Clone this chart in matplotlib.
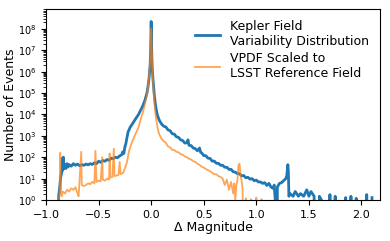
"""
Kepler field variability distribution vs. the VPDF scaled to the LSST
reference field: histogram of magnitude changes on a log count axis.
"""
import matplotlib
matplotlib.use("Agg")
import matplotlib.pyplot as plt
import numpy as np

# Kepler field: delta magnitude bins and event counts (0 = empty bin)
kepler_dmag = [
    -0.885, -0.88, -0.87, -0.86, -0.85, -0.845, -0.84, -0.835, -0.83, -0.82,
    -0.81, -0.80, -0.79, -0.78, -0.76, -0.74, -0.72, -0.70, -0.68, -0.66,
    -0.64, -0.62, -0.60, -0.58, -0.56, -0.54, -0.52, -0.50, -0.48, -0.46,
    -0.44, -0.42, -0.40, -0.38, -0.36, -0.34, -0.32, -0.30, -0.28, -0.27,
    -0.26, -0.25, -0.24, -0.22, -0.20, -0.18, -0.15, -0.12, -0.10, -0.08,
    -0.06, -0.04, -0.03, -0.02, -0.01, -0.005, 0.0, 0.005, 0.01, 0.02,
    0.03, 0.04, 0.05, 0.06, 0.08, 0.10, 0.12, 0.14, 0.16, 0.18,
    0.20, 0.22, 0.24, 0.26, 0.28, 0.30, 0.32, 0.34, 0.35, 0.36,
    0.38, 0.40, 0.42, 0.44, 0.46, 0.47, 0.48, 0.50, 0.52, 0.54,
    0.56, 0.58, 0.60, 0.62, 0.64, 0.66, 0.68, 0.70, 0.72, 0.74,
    0.76, 0.78, 0.80, 0.82, 0.84, 0.86, 0.88, 0.90, 0.92, 0.94,
    0.96, 0.98, 1.00, 1.02, 1.04, 1.06, 1.08, 1.10, 1.12, 1.14,
    1.16, 1.17, 1.18, 1.19, 1.20, 1.22, 1.24, 1.26, 1.28, 1.29,
    1.30, 1.305, 1.31, 1.32, 1.35, 1.37, 1.40, 1.42, 1.45, 1.48,
    1.50, 1.52, 1.55, 1.57, 1.60, 1.62, 1.65, 1.70, 1.72, 1.75,
    1.80, 1.85, 1.88, 1.90, 1.92, 1.95, 2.00, 2.05, 2.08, 2.10,
]
kepler_counts = [
    0, 1.5, 4, 12, 20, 90, 25, 100, 30, 45,
    30, 50, 35, 45, 38, 50, 42, 48, 40, 45,
    42, 48, 44, 50, 46, 55, 50, 65, 58, 70,
    65, 78, 72, 90, 85, 100, 95, 115, 130, 180,
    150, 300, 450, 1500, 2500, 3500, 6000, 10000, 16000, 25000,
    45000, 1e5, 2e5, 5e5, 2e6, 1e7, 2.2e8, 1e7, 1.5e6, 3e5,
    8e4, 3e4, 1.5e4, 9000, 5000, 3500, 2800, 2600, 1900, 1750,
    1250, 1200, 900, 850, 650, 600, 460, 470, 650, 360,
    350, 270, 250, 200, 270, 170, 160, 120, 118, 90,
    88, 66, 66, 52, 52, 42, 42, 34, 34, 27,
    27, 21, 20, 17, 17, 13.5, 14, 11, 11.5, 9.5,
    10, 8, 8.5, 7, 7, 6, 6.5, 4.8, 6, 4,
    3.5, 5, 1, 0, 4, 6, 6.5, 8, 10, 14,
    45, 20, 1.5, 2, 1.5, 2.5, 1.5, 2, 1.5, 3,
    1.5, 2.5, 1.5, 0, 1.5, 1, 0, 1.8, 0, 1.5,
    0, 1.3, 0, 1.5, 0, 1.2, 0, 1.8, 0, 1.3,
]

# VPDF scaled to the LSST reference field
lsst_dmag = [
    -0.885, -0.875, -0.87, -0.865, -0.86, -0.855, -0.85, -0.84, -0.82, -0.80,
    -0.78, -0.76, -0.74, -0.72, -0.70, -0.69, -0.665, -0.66, -0.64, -0.62,
    -0.60, -0.58, -0.56, -0.54, -0.53, -0.52, -0.50, -0.48, -0.465, -0.46,
    -0.44, -0.42, -0.40, -0.395, -0.39, -0.37, -0.355, -0.35, -0.33, -0.31,
    -0.30, -0.29, -0.27, -0.26, -0.25, -0.23, -0.21, -0.19, -0.17, -0.15,
    -0.12, -0.10, -0.08, -0.06, -0.04, -0.03, -0.02, -0.01, -0.005, 0.0,
    0.005, 0.01, 0.02, 0.03, 0.04, 0.05, 0.06, 0.07, 0.08, 0.10,
    0.12, 0.14, 0.16, 0.18, 0.20, 0.22, 0.24, 0.26, 0.28, 0.30,
    0.32, 0.34, 0.36, 0.38, 0.40, 0.42, 0.44, 0.46, 0.48, 0.50,
    0.52, 0.54, 0.56, 0.58, 0.60, 0.62, 0.64, 0.66, 0.68, 0.70,
    0.72, 0.74, 0.76, 0.78, 0.79, 0.80, 0.81, 0.82, 0.83, 0.84,
    0.85, 0.86, 0.87, 0.88, 0.90, 0.92, 0.95, 0.97, 1.00, 1.02,
    1.05, 1.08,
]
lsst_counts = [
    0, 1, 3, 160, 8, 2, 1.5, 2.5, 2, 3,
    2.5, 3.5, 3, 4, 2, 1.5, 180, 5, 4.5, 5,
    6, 5.5, 7, 6, 200, 7, 8, 7.5, 100, 9,
    8, 10, 9, 150, 11, 12, 250, 13, 14, 15,
    60, 16, 18, 22, 30, 60, 200, 400, 700, 1200,
    2500, 6000, 12000, 30000, 8e4, 2e5, 6e5, 3e6, 1.5e7, 1e8,
    1.5e7, 2e6, 2e5, 4e4, 1.2e4, 5000, 2500, 1500, 1100, 700,
    560, 470, 320, 290, 220, 215, 180, 170, 140, 130,
    110, 100, 85, 78, 65, 60, 50, 44, 36, 33,
    28, 25, 22, 19, 16, 16, 13, 12, 10, 5,
    9, 3, 7, 2, 6, 1, 5, 8, 40, 50,
    15, 8, 3, 0, 1.2, 0, 1.1, 0, 1.3, 0,
    1.1, 0,
]

fig, ax = plt.subplots(figsize=(3.9, 2.41), dpi=100)
fig.subplots_adjust(left=0.118, right=0.974, bottom=0.170, top=0.963)

ax.plot(kepler_dmag, kepler_counts, color="#1f77b4", lw=2.0,
        label="Kepler Field\nVariability Distribution")
ax.plot(lsst_dmag, lsst_counts, color="#ff7f0e", lw=1.3, alpha=0.7,
        label="VPDF Scaled to\nLSST Reference Field")

ax.set_yscale("log")
ax.set_ylim(1, 10 ** 8.93)
ax.set_xlim(-1.0, 2.175)
ax.set_xticks(np.arange(-1.0, 2.01, 0.5))
ax.set_yticks([10.0 ** k for k in range(9)])
ax.tick_params(axis="x", labelsize=8)
ax.tick_params(axis="y", labelsize=7)

ax.set_xlabel("Δ Magnitude", fontsize=9, labelpad=1)
ax.set_ylabel("Number of Events", fontsize=9, labelpad=0.5)
ax.legend(loc="upper right", frameon=False, fontsize=9, handlelength=2.0,
          labelspacing=0.3)

fig.savefig("out.png", dpi=100)
